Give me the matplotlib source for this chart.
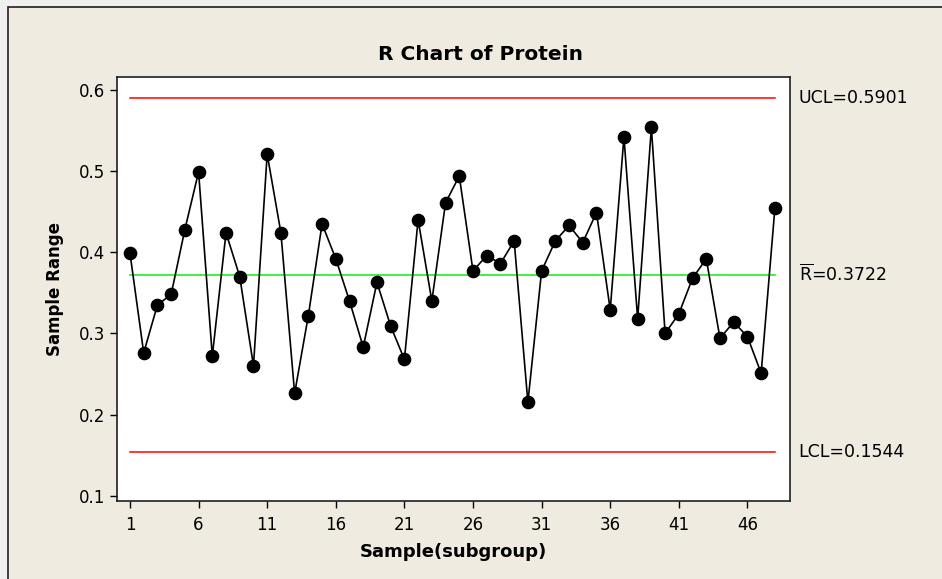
import numpy as np
import matplotlib.pyplot as plt
from matplotlib.patches import Rectangle

# Sample ranges
samples = np.arange(1, 49)
ranges = [0.399, 0.276, 0.335, 0.348, 0.428, 0.499, 0.272, 0.424, 0.370, 0.260,
          0.521, 0.424, 0.226, 0.322, 0.435, 0.392, 0.340, 0.283, 0.363, 0.309,
          0.268, 0.440, 0.340, 0.461, 0.494, 0.377, 0.396, 0.386, 0.414, 0.215,
          0.377, 0.414, 0.433, 0.412, 0.449, 0.329, 0.542, 0.318, 0.554, 0.300,
          0.324, 0.368, 0.392, 0.294, 0.314, 0.296, 0.251, 0.454]

ucl = 0.5901
rbar = 0.3722
lcl = 0.1544

xticks = [1, 6, 11, 16, 21, 26, 31, 36, 41, 46]
yticks = [0.1, 0.2, 0.3, 0.4, 0.5, 0.6]

bg = "#EFEBE1"

fig = plt.figure(figsize=(9.42, 5.79), dpi=100)
fig.patch.set_facecolor("#F0F0F0")
# beige panel with dark frame
fig.patches.append(Rectangle((8 / 942, -0.01), 1.0, 1 - 7 / 579 + 0.01,
                             transform=fig.transFigure, facecolor=bg,
                             edgecolor="#202020", linewidth=1.2, zorder=-10))

ax = fig.add_axes([0.1237, 0.1352, 0.7149, 0.7318])
ax.set_facecolor("white")

# control lines
ax.plot([samples[0], samples[-1]], [ucl, ucl], color="#FF0000", lw=1.1)
ax.plot([samples[0], samples[-1]], [lcl, lcl], color="#FF0000", lw=1.1)
ax.plot([samples[0], samples[-1]], [rbar, rbar], color="#22EE22", lw=1.2)

ax.plot(samples, ranges, color="black", lw=1.2, marker="o", markersize=8.8,
        markerfacecolor="black", markeredgecolor="black")

ax.set_xlim(0.02, 49.1)
ax.set_ylim(0.0938, 0.616)
ax.set_xticks(xticks)
ax.set_yticks(yticks)
ax.set_yticklabels(["0.1", "0.2", "0.3", "0.4", "0.5", "0.6"])
ax.tick_params(direction="out", length=5, width=1, labelsize=12)
ax.tick_params(axis="x", pad=6)
ax.tick_params(axis="y", pad=3)

for s in ax.spines.values():
    s.set_linewidth(1.2)
    s.set_color("#202020")

fig.text(480 / 942, 1 - 55 / 579, "R Chart of Protein", fontsize=14.5,
         fontweight="bold", ha="center", va="center")
ax.set_xlabel("Sample(subgroup)", fontsize=13, fontweight="bold", va="center")
ax.xaxis.set_label_coords(0.5, -0.121)
ax.set_ylabel("Sample Range", fontsize=12, fontweight="bold", va="center")
ax.yaxis.set_label_coords(-0.091, 0.5)

# limit labels to the right of the plot
lab_x = 1.013
ax.text(lab_x, ucl, "UCL=0.5901", transform=ax.get_yaxis_transform(),
        va="center", ha="left", fontsize=12.5)
ax.text(lab_x, rbar, r"$\overline{\mathrm{R}}$=0.3722", transform=ax.get_yaxis_transform(),
        va="center", ha="left", fontsize=12.5)
ax.text(lab_x, lcl, "LCL=0.1544", transform=ax.get_yaxis_transform(),
        va="center", ha="left", fontsize=12.5)

plt.savefig("out.png", dpi=100, facecolor=fig.get_facecolor())
